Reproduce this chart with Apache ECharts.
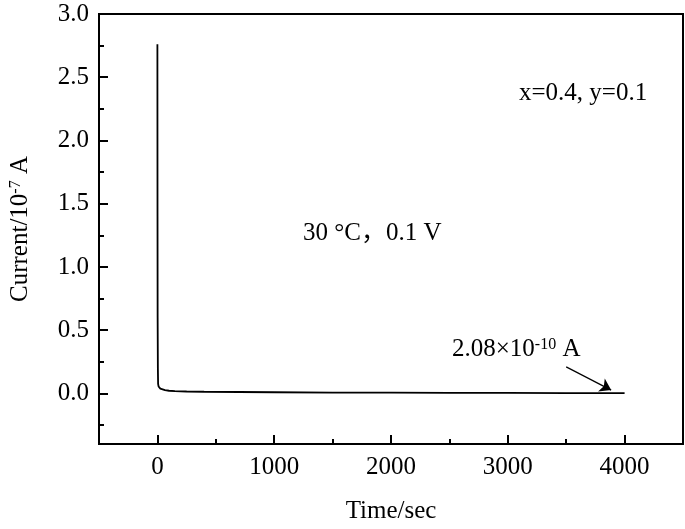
<!DOCTYPE html>
<html>
<head>
<meta charset="utf-8">
<script src="https://cdn.jsdelivr.net/npm/echarts@6/dist/echarts.min.js"></script>
<style>
  html, body { margin: 0; padding: 0; background: #fff; }
  #chart { width: 685px; height: 529px; }
</style>
</head>
<body>
<div id="chart"></div>
<script>
  // time in sec, current in 1e-7 A
  var timeVals = [0, 1, 2, 4, 6, 10, 15, 25, 40, 65, 100, 150, 250, 400, 700, 1000, 1500, 2000, 2500, 3000, 3500, 4000];
  var currentVals = [2.76, 1.4, 0.6, 0.2, 0.075, 0.055, 0.045, 0.038, 0.032, 0.026, 0.021, 0.018, 0.015, 0.013, 0.011, 0.009, 0.007, 0.006, 0.005, 0.004, 0.003, 0.002];

  var xMajorTicks = [0, 1000, 2000, 3000, 4000];
  var xMinorTicks = [500, 1500, 2500, 3500];
  var yMajorTicks = [0, 0.5, 1.0, 1.5, 2.0, 2.5, 3.0];
  var yMinorTicks = [-0.25, 0.25, 0.75, 1.25, 1.75, 2.25, 2.75];

  var arrowFrom = [3500, 0.21];
  var arrowTo = [3885, 0.026];

  var serif = '"Liberation Serif", "Times New Roman", serif';
  var chart = echarts.init(document.getElementById('chart'));

  var points = timeVals.map(function (t, i) { return [t, currentVals[i]]; });

  var option = {
    animation: false,
    backgroundColor: '#fff',
    grid: {
      left: 98, top: 14, right: 2, bottom: 84,
      show: true, borderColor: '#000', borderWidth: 2
    },
    xAxis: [
      {
        type: 'value', min: -500, max: 4500,
        axisLine: { onZero: false, lineStyle: { color: '#000', width: 2 } },
        axisTick: { inside: true, length: 9, customValues: xMajorTicks, lineStyle: { color: '#000', width: 2 } },
        axisLabel: {
          customValues: xMajorTicks, color: '#000', fontSize: 25, fontFamily: serif, margin: 11,
          formatter: function (v) { return String(v); }
        },
        splitLine: { show: false },
        name: 'Time/sec', nameLocation: 'middle', nameGap: 55,
        nameTextStyle: { color: '#000', fontSize: 25, fontFamily: serif }
      },
      {
        type: 'value', min: -500, max: 4500, position: 'bottom',
        axisLine: { show: false, onZero: false },
        axisTick: { inside: true, length: 5, customValues: xMinorTicks, lineStyle: { color: '#000', width: 2 } },
        axisLabel: { show: false },
        splitLine: { show: false }
      }
    ],
    yAxis: [
      {
        type: 'value', min: -0.4, max: 3.0,
        axisLine: { show: true, onZero: false, lineStyle: { color: '#000', width: 2 } },
        axisTick: { show: true, inside: true, length: 9, customValues: yMajorTicks, lineStyle: { color: '#000', width: 2 } },
        axisLabel: {
          customValues: yMajorTicks, color: '#000', fontSize: 25, fontFamily: serif, margin: 10,
          formatter: function (v) { return v.toFixed(1); }
        },
        splitLine: { show: false },
        name: 'Current/10{sup|-7} A', nameLocation: 'middle', nameGap: 66,
        nameTextStyle: {
          color: '#000', fontSize: 25, fontFamily: serif,
          rich: { sup: { fontSize: 16, fontFamily: serif, color: '#000', verticalAlign: 'top', lineHeight: 12 } }
        }
      },
      {
        type: 'value', min: -0.4, max: 3.0, position: 'left',
        axisLine: { show: false, onZero: false },
        axisTick: { show: true, inside: true, length: 5, customValues: yMinorTicks, lineStyle: { color: '#000', width: 2 } },
        axisLabel: { show: false },
        splitLine: { show: false }
      }
    ],
    series: [
      {
        type: 'line',
        data: points,
        showSymbol: false,
        symbol: 'none',
        lineStyle: { color: '#000', width: 1.8 },
        markLine: {
          silent: true,
          symbol: ['none', 'arrow'],
          symbolSize: 11,
          label: { show: false },
          lineStyle: { color: '#000', width: 1.2, type: 'solid' },
          data: [[{ coord: arrowFrom }, { coord: arrowTo }]]
        }
      }
    ],
    graphic: [
      {
        type: 'text', left: 519, top: 81,
        style: { text: 'x=0.4, y=0.1', fill: '#000', fontSize: 25, fontFamily: serif }
      },
      {
        type: 'text', left: 303, top: 221,
        style: { text: '30 °C，0.1 V', fill: '#000', fontSize: 25, fontFamily: serif + ', "Noto Sans CJK SC"' }
      },
      {
        type: 'text', left: 452, top: 337,
        style: {
          text: '2.08×10{sup|-10} A', fill: '#000', fontSize: 25, fontFamily: serif,
          rich: { sup: { fontSize: 16, fontFamily: serif, fill: '#000', verticalAlign: 'top', lineHeight: 12 } }
        }
      }
    ]
  };

  chart.setOption(option);
</script>
</body>
</html>
